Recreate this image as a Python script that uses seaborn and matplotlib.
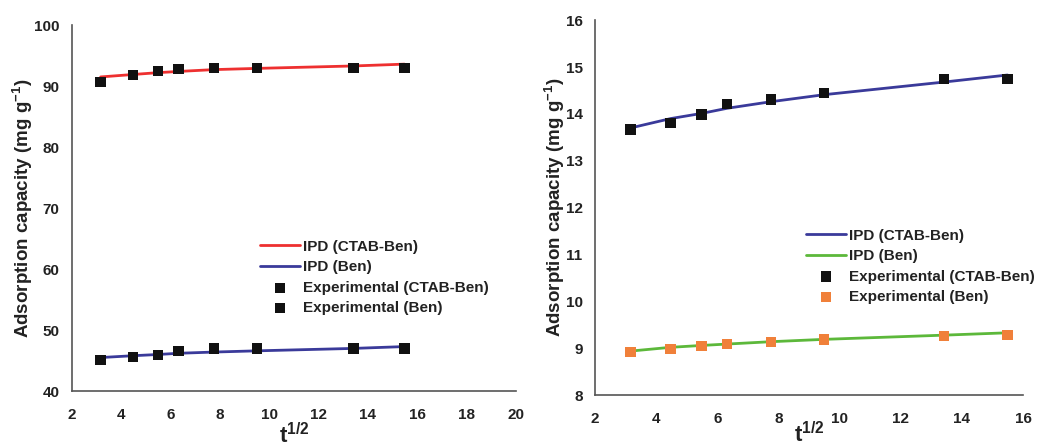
import pandas as pd
import seaborn as sns
import matplotlib.pyplot as plt

# t^1/2 values (sqrt of contact time)
t_half = [3.16, 4.47, 5.48, 6.32, 7.75, 9.49, 13.42, 15.49]

# left panel
left_exp_ctab = [90.7, 91.8, 92.5, 92.8, 93.0, 93.0, 93.0, 93.0]
left_exp_ben = [45.1, 45.6, 45.9, 46.6, 47.0, 47.0, 47.0, 47.0]
left_ipd_ctab = [91.5, 91.9, 92.2, 92.4, 92.7, 92.9, 93.3, 93.6]
left_ipd_ben = [45.5, 45.8, 46.0, 46.2, 46.4, 46.6, 47.0, 47.3]

# right panel
right_exp_ctab = [13.67, 13.80, 13.99, 14.21, 14.31, 14.44, 14.74, 14.75]
right_exp_ben = [8.92, 8.99, 9.05, 9.09, 9.14, 9.19, 9.26, 9.28]
right_ipd_ctab = [13.70, 13.90, 14.01, 14.12, 14.26, 14.41, 14.68, 14.83]
right_ipd_ben = [8.94, 9.02, 9.06, 9.09, 9.14, 9.19, 9.28, 9.33]

labels = ['IPD (CTAB-Ben)', 'IPD (Ben)', 'Experimental (CTAB-Ben)', 'Experimental (Ben)']

sns.set_style('white')
plt.rcParams['font.family'] = ['Liberation Sans', 'DejaVu Sans']
plt.rcParams['font.weight'] = 'bold'
plt.rcParams['mathtext.fontset'] = 'custom'
plt.rcParams['mathtext.rm'] = 'Liberation Sans:bold'
plt.rcParams['mathtext.bf'] = 'Liberation Sans:bold'

txt = '#222222'
fig = plt.figure(figsize=(10.44, 4.48), dpi=100)
ax1 = fig.add_axes([0.069, 0.127, 0.425, 0.817])
ax2 = fig.add_axes([0.570, 0.118, 0.410, 0.837])


def panel(ax, ipd_a, ipd_b, exp_a, exp_b, cols, ylim, yticks, xlim, xticks, legpos, xpad):
    df = pd.DataFrame({'t': t_half, 'ia': ipd_a, 'ib': ipd_b, 'ea': exp_a, 'eb': exp_b})
    sns.lineplot(data=df, x='t', y='ia', ax=ax, color=cols[0], lw=2, label=labels[0])
    sns.lineplot(data=df, x='t', y='ib', ax=ax, color=cols[1], lw=2, label=labels[1])
    sns.scatterplot(data=df, x='t', y='ea', ax=ax, color=cols[2], marker='s', s=55,
                    edgecolor='none', label=labels[2], zorder=3)
    sns.scatterplot(data=df, x='t', y='eb', ax=ax, color=cols[3], marker='s', s=55,
                    edgecolor='none', label=labels[3], zorder=3)
    ax.set_xlim(*xlim)
    ax.set_ylim(*ylim)
    ax.set_xticks(xticks)
    ax.set_yticks(yticks)
    ax.tick_params(axis='x', length=0, labelsize=11, colors=txt, pad=12)
    ax.tick_params(axis='y', length=0, labelsize=11, colors=txt, pad=9)
    for lab in ax.get_xticklabels() + ax.get_yticklabels():
        lab.set_fontweight('bold')
    for s in ['top', 'right']:
        ax.spines[s].set_visible(False)
    for s in ['left', 'bottom']:
        ax.spines[s].set_color('#555555')
        ax.spines[s].set_linewidth(1.2)
    ax.set_xlabel(r'$\mathbf{t^{1/2}}$', fontsize=16, color=txt, labelpad=xpad)
    ax.set_ylabel(r'Adsorption capacity (mg g$^{\mathbf{-1}}$)', fontsize=13.5,
                  fontweight='bold', color=txt, labelpad=-1)
    h, l = ax.get_legend_handles_labels()
    ax.legend(h, l, loc='upper left', bbox_to_anchor=legpos, frameon=False,
              handlelength=2.6, handletextpad=0.2, labelspacing=0.42,
              borderaxespad=0, labelcolor=txt, prop={'weight': 'bold', 'size': 11})


panel(ax1, left_ipd_ctab, left_ipd_ben, left_exp_ctab, left_exp_ben,
      ['#ee3030', '#3a3a9a', '#111111', '#111111'],
      (40, 100), range(40, 101, 10), (2, 20), range(2, 21, 2), (0.41, 0.43), 1)
panel(ax2, right_ipd_ctab, right_ipd_ben, right_exp_ctab, right_exp_ben,
      ['#3a3a9a', '#5cb83a', '#111111', '#f0803a'],
      (8, 16), range(8, 17), (2, 16), range(2, 17, 2), (0.478, 0.46), -3)

fig.savefig('out.png', dpi=100)
